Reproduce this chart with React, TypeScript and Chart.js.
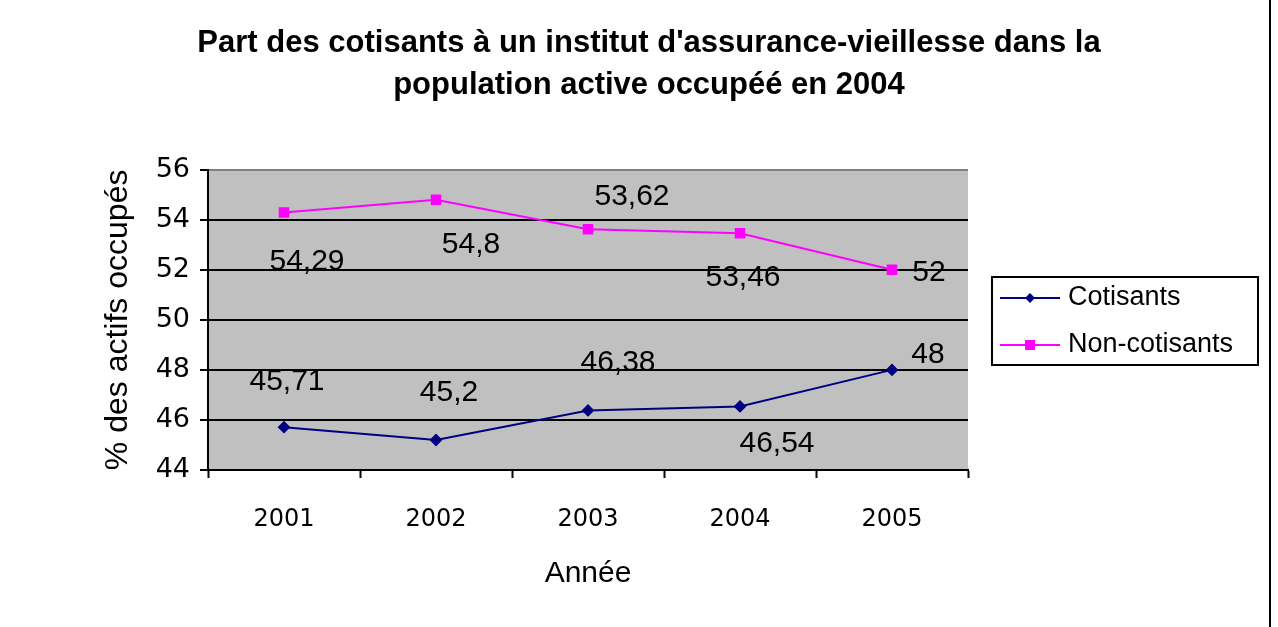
import React, { useEffect, useRef } from "react";
import { Chart, registerables } from "chart.js";

Chart.register(...registerables);

const TITLE_LINES = [
  "Part des cotisants à un institut d'assurance-vieillesse dans la",
  "population active occupéé en 2004",
];
const CATEGORIES = ["2001", "2002", "2003", "2004", "2005"];
const COTISANTS = [45.71, 45.2, 46.38, 46.54, 48];
const NON_COTISANTS = [54.29, 54.8, 53.62, 53.46, 52];
const SERIES_NAMES = ["Cotisants", "Non-cotisants"];
const Y_MIN = 44;
const Y_MAX = 56;
const Y_STEP = 2;
const X_TITLE = "Année";
const Y_TITLE = "% des actifs occupés";

// label offsets (px) relative to each point, mimicking the original placement
const LABEL_OFFSETS = [
  [[3, -45], [13, -47], [30, -48], [37, 37], [36, -15]],
  [[23, 49], [35, 45], [44, -33], [3, 44], [37, 3]],
];

const FONT = "'Liberation Sans', Arial, sans-serif";
const TICK_FONT = "'DejaVu Sans', sans-serif";

const fmt = (v: number) => String(v).replace(".", ",");

const labelsPlugin = {
  id: "pointLabels",
  afterDatasetsDraw(chart: any) {
    const ctx = chart.ctx;
    ctx.save();
    ctx.font = `30px ${FONT}`;
    ctx.fillStyle = "#000";
    ctx.textAlign = "center";
    ctx.textBaseline = "middle";
    chart.data.datasets.forEach((ds: any, di: number) => {
      const meta = chart.getDatasetMeta(di);
      meta.data.forEach((pt: any, i: number) => {
        const [dx, dy] = LABEL_OFFSETS[di][i];
        ctx.fillText(fmt(ds.data[i]), pt.x + dx, pt.y + dy);
      });
    });
    ctx.restore();
  },
};

const legendPlugin = {
  id: "boxLegend",
  afterDraw(chart: any) {
    const ctx = chart.ctx;
    const ca = chart.chartArea;
    const x0 = ca.right + 24;
    const y0 = 277;
    const w = 266;
    const h = 88;
    ctx.save();
    ctx.fillStyle = "#fff";
    ctx.fillRect(x0, y0, w, h);
    ctx.strokeStyle = "#000";
    ctx.lineWidth = 2;
    ctx.strokeRect(x0, y0, w, h);
    chart.data.datasets.forEach((ds: any, i: number) => {
      const cy = y0 + 21 + i * 47;
      ctx.strokeStyle = ds.borderColor;
      ctx.lineWidth = 2;
      ctx.beginPath();
      ctx.moveTo(x0 + 8, cy);
      ctx.lineTo(x0 + 68, cy);
      ctx.stroke();
      ctx.fillStyle = ds.pointBackgroundColor;
      const cx = x0 + 38;
      if (ds.pointStyle === "rect") {
        ctx.fillRect(cx - 5, cy - 5, 10, 10);
      } else {
        ctx.beginPath();
        ctx.moveTo(cx, cy - 5);
        ctx.lineTo(cx + 5, cy);
        ctx.lineTo(cx, cy + 5);
        ctx.lineTo(cx - 5, cy);
        ctx.closePath();
        ctx.fill();
      }
      ctx.fillStyle = "#000";
      ctx.font = `27px ${FONT}`;
      ctx.textAlign = "left";
      ctx.textBaseline = "middle";
      ctx.fillText(ds.label, x0 + 76, cy);
    });
    // outer right border
    ctx.strokeStyle = "#000";
    ctx.lineWidth = 2;
    ctx.beginPath();
    ctx.moveTo(chart.width - 8, 0);
    ctx.lineTo(chart.width - 8, chart.height);
    ctx.stroke();
    ctx.restore();
  },
};

const bgPlugin = {
  id: "plotBg",
  beforeDraw(chart: any) {
    const { ctx, chartArea: ca } = chart;
    ctx.save();
    ctx.fillStyle = "#fff";
    ctx.fillRect(0, 0, chart.width, chart.height);
    ctx.fillStyle = "#c0c0c0";
    ctx.fillRect(ca.left, ca.top, ca.right - ca.left, ca.bottom - ca.top);
    ctx.restore();
  },
};

export default function App() {
  const ref = useRef<HTMLCanvasElement>(null);
  useEffect(() => {
    document.body.style.margin = "0";
    const chart = new Chart(ref.current as HTMLCanvasElement, {
      type: "line",
      data: {
        labels: CATEGORIES,
        datasets: [
          {
            label: SERIES_NAMES[0],
            data: COTISANTS,
            borderColor: "#000080",
            backgroundColor: "#000080",
            pointBackgroundColor: "#000080",
            pointBorderColor: "#000080",
            pointStyle: "rectRot",
            pointRadius: 5,
            borderWidth: 2,
            tension: 0,
          },
          {
            label: SERIES_NAMES[1],
            data: NON_COTISANTS,
            borderColor: "#ff00ff",
            backgroundColor: "#ff00ff",
            pointBackgroundColor: "#ff00ff",
            pointBorderColor: "#ff00ff",
            pointStyle: "rect",
            pointRadius: 6,
            borderWidth: 2,
            tension: 0,
          },
        ],
      },
      options: {
        animation: false,
        responsive: false,
        layout: { padding: { left: 20, right: 0, top: 0, bottom: 0 } },
        plugins: {
          legend: { display: false },
          tooltip: { enabled: false },
          title: {
            display: true,
            text: TITLE_LINES,
            color: "#000",
            font: { family: FONT, size: 31, weight: "bold", lineHeight: 1.35 },
            padding: { top: 23, bottom: 63 },
          },
        },
        scales: {
          x: {
            offset: true,
            afterFit: (s: any) => {
              s.height = 157;
            },
            grid: {
              offset: true,
              drawOnChartArea: false,
              drawTicks: true,
              tickLength: 8,
              tickColor: "#000",
              tickWidth: 2,
            },
            border: { display: true, color: "#000", width: 2 },
            ticks: {
              color: "#000",
              font: { family: TICK_FONT, size: 24 },
              padding: 27,
            },
            title: {
              display: true,
              text: X_TITLE,
              color: "#000",
              font: { family: FONT, size: 30 },
              padding: { top: 0, bottom: 35 },
            },
          },
          y: {
            min: Y_MIN,
            max: Y_MAX,
            afterFit: (s: any) => {
              s.width = 188;
            },
            ticks: {
              stepSize: Y_STEP,
              color: "#000",
              font: { family: TICK_FONT, size: 27 },
              padding: 10,
            },
            grid: {
              color: (c: any) => (c.tick && c.tick.value === Y_MAX ? "#808080" : "#000"),
              lineWidth: 2,
              tickLength: 8,
              tickColor: "#000",
              tickWidth: 2,
            },
            border: { display: true, color: "#000", width: 2 },
            title: {
              display: true,
              text: Y_TITLE,
              color: "#000",
              font: { family: FONT, size: 32 },
              padding: { top: 79, bottom: 0 },
            },
          },
          yRight: {
            type: "linear",
            position: "right",
            display: true,
            afterFit: (s: any) => {
              s.width = 310;
            },
            grid: { drawOnChartArea: false, drawTicks: false },
            border: { display: false },
            ticks: { display: false },
          },
        },
      },
      plugins: [bgPlugin, labelsPlugin, legendPlugin],
    });
    return () => chart.destroy();
  }, []);
  return <canvas ref={ref} width={1278} height={627} style={{ display: "block" }} />;
}
